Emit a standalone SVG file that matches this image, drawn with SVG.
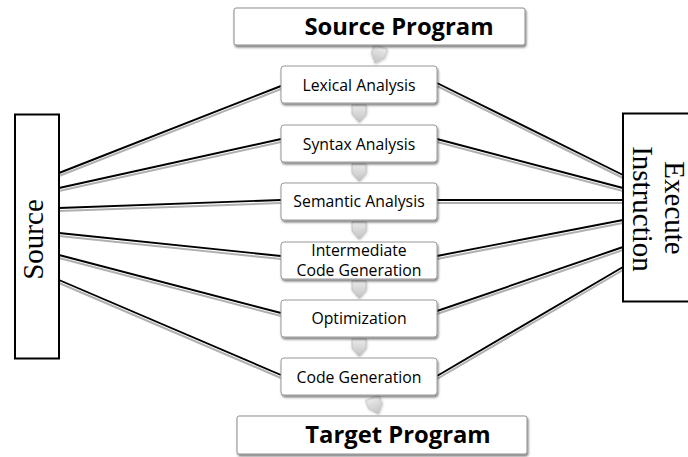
<svg xmlns="http://www.w3.org/2000/svg" width="688" height="457" viewBox="0 0 688 457">
  <style>
    .step rect { fill: #ffffff; stroke: #999999; stroke-width: 1; filter: url(#drop); }
    .step text { font-family: "Open Sans", "Liberation Sans", sans-serif; font-size: 15.8px; fill: #000; text-anchor: middle; }
    .io rect { fill: #ffffff; stroke: #8c8c8c; stroke-width: 1; filter: url(#drop); }
    .io text { font-family: "Open Sans", "Liberation Sans", sans-serif; font-size: 23.8px; font-weight: bold; fill: #000; text-anchor: middle; }
    .side rect { fill: #ffffff; stroke: #000; stroke-width: 2; }
    .side text { font-family: "Liberation Serif", "Times New Roman", serif; font-size: 29px; fill: #000; text-anchor: middle; }
    .wire line { stroke: #000; stroke-width: 1.9; }
    .wire-shade line { stroke: #b0b0b0; stroke-width: 2; }
    .flow { fill: url(#flowFill); stroke: #b8b8b8; stroke-width: 0.7; filter: url(#softDrop); }
  </style>
  <defs>
    <filter id="drop" x="-10%" y="-20%" width="130%" height="170%">
      <feDropShadow dx="1" dy="2" stdDeviation="1.2" flood-color="#000" flood-opacity="0.5"/>
    </filter>
    <filter id="softDrop" x="-40%" y="-40%" width="180%" height="180%">
      <feDropShadow dx="0.5" dy="1" stdDeviation="0.8" flood-color="#000" flood-opacity="0.3"/>
    </filter>
    <linearGradient id="flowFill" x1="0" y1="0" x2="0" y2="1">
      <stop offset="0" stop-color="#ebebeb"/>
      <stop offset="1" stop-color="#c2c2c2"/>
    </linearGradient>
    <path id="flowArrow" d="M-7,0 H7 V9 L0,17 L-7,9 Z"/>
  </defs>

  <!-- connectors: grey offset copy under each black line -->
  <g id="connectors">
    <g class="wire-shade" transform="translate(0,3)">
      <line x1="59" y1="173" x2="281" y2="86"/>
      <line x1="59" y1="188" x2="281" y2="139"/>
      <line x1="59" y1="208" x2="281" y2="200"/>
      <line x1="59" y1="233" x2="281" y2="256"/>
      <line x1="59" y1="255" x2="281" y2="313"/>
      <line x1="59" y1="280" x2="281" y2="375"/>
      <line x1="437" y1="83" x2="623" y2="175"/>
      <line x1="437" y1="139" x2="623" y2="188"/>
      <line x1="437" y1="200" x2="623" y2="200"/>
      <line x1="437" y1="256" x2="623" y2="220"/>
      <line x1="437" y1="311" x2="623" y2="247"/>
      <line x1="437" y1="376" x2="623" y2="267"/>
    </g>
    <g class="wire">
      <line x1="59" y1="173" x2="281" y2="86"/>
      <line x1="59" y1="188" x2="281" y2="139"/>
      <line x1="59" y1="208" x2="281" y2="200"/>
      <line x1="59" y1="233" x2="281" y2="256"/>
      <line x1="59" y1="255" x2="281" y2="313"/>
      <line x1="59" y1="280" x2="281" y2="375"/>
      <line x1="437" y1="83" x2="623" y2="175"/>
      <line x1="437" y1="139" x2="623" y2="188"/>
      <line x1="437" y1="200" x2="623" y2="200"/>
      <line x1="437" y1="256" x2="623" y2="220"/>
      <line x1="437" y1="311" x2="623" y2="247"/>
      <line x1="437" y1="376" x2="623" y2="267"/>
    </g>
  </g>

  <!-- flow arrows between the stages -->
  <g id="flow-arrows">
    <use href="#flowArrow" class="flow" transform="translate(381,47) rotate(20)"/>
    <use href="#flowArrow" class="flow" transform="translate(359,105)"/>
    <use href="#flowArrow" class="flow" transform="translate(359,164)"/>
    <use href="#flowArrow" class="flow" transform="translate(359,222)"/>
    <use href="#flowArrow" class="flow" transform="translate(359,281)"/>
    <use href="#flowArrow" class="flow" transform="translate(359,339)"/>
    <use href="#flowArrow" class="flow" transform="translate(372,398) rotate(-21)"/>
  </g>

  <g id="source-program" class="io">
    <rect x="234" y="8" width="291" height="37" rx="2"/>
    <text x="399" y="35">Source Program</text>
  </g>

  <g id="lexical-analysis" class="step">
    <rect x="281" y="66" width="156" height="37" rx="3"/>
    <text x="359" y="91">Lexical Analysis</text>
  </g>
  <g id="syntax-analysis" class="step">
    <rect x="281" y="125" width="156" height="37" rx="3"/>
    <text x="359" y="150">Syntax Analysis</text>
  </g>
  <g id="semantic-analysis" class="step">
    <rect x="281" y="183" width="156" height="37" rx="3"/>
    <text x="359" y="207">Semantic Analysis</text>
  </g>
  <g id="intermediate-code-generation" class="step">
    <rect x="281" y="242" width="156" height="37" rx="3"/>
    <text x="359" y="256">Intermediate</text>
    <text x="359" y="276">Code Generation</text>
  </g>
  <g id="optimization" class="step">
    <rect x="281" y="300" width="156" height="37" rx="3"/>
    <text x="359" y="324">Optimization</text>
  </g>
  <g id="code-generation" class="step">
    <rect x="281" y="358" width="156" height="37" rx="3"/>
    <text x="359" y="383">Code Generation</text>
  </g>

  <g id="target-program" class="io">
    <rect x="237" y="416" width="290" height="38" rx="2"/>
    <text x="398" y="443">Target Program</text>
  </g>

  <g id="source" class="side">
    <rect x="15" y="114.5" width="44" height="244"/>
    <text transform="translate(43,239.5) rotate(-90)">Source</text>
  </g>

  <g id="execute-instruction" class="side">
    <rect x="623" y="113.5" width="70" height="188"/>
    <text transform="translate(665,208) rotate(90)">Execute</text>
    <text transform="translate(633,209) rotate(90)">Instruction</text>
  </g>
</svg>
